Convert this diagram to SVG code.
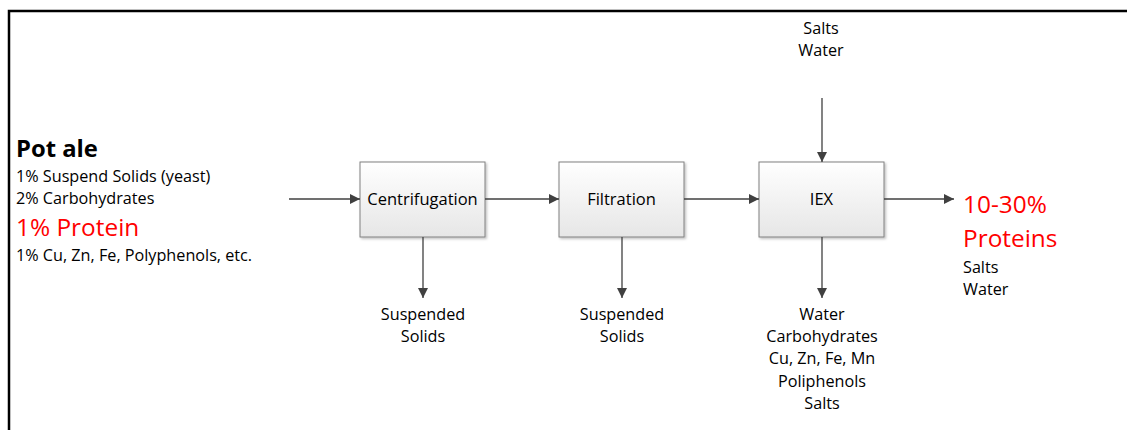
<svg xmlns="http://www.w3.org/2000/svg" width="1127" height="430" viewBox="0 0 1127 430">
  <defs>
    <linearGradient id="boxFill" x1="0" y1="0" x2="0" y2="1">
      <stop offset="0" stop-color="#ffffff"/>
      <stop offset="1" stop-color="#e6e6e6"/>
    </linearGradient>
    <filter id="shadow" x="-10%" y="-10%" width="130%" height="130%">
      <feDropShadow dx="1.5" dy="1.5" stdDeviation="1" flood-color="#000" flood-opacity="0.25"/>
    </filter>
    <marker id="arrow" viewBox="0 0 10 10" refX="10" refY="5" markerWidth="10" markerHeight="10" markerUnits="userSpaceOnUse" orient="auto">
      <path d="M0,0 L10,5 L0,10 z" fill="#404040"/>
    </marker>
  </defs>
  <style>
    text { font-family: "Open Sans", "Liberation Sans", Arial, sans-serif; fill: #000; }
    .lbl { font-size: 16.2px; }
    .unit { font-size: 16.5px; }
    .mid { text-anchor: middle; }
    .red { fill: #ff0000; }
    .box { fill: url(#boxFill); stroke: #808080; stroke-width: 1; filter: url(#shadow); }
    .conn { stroke: #404040; stroke-width: 1.3; fill: none; marker-end: url(#arrow); }
  </style>

  <rect width="1127" height="430" fill="#ffffff"/>

  <!-- frame -->
  <path d="M9,430 V11 H1127" fill="none" stroke="#000" stroke-width="2.5"/>

  <!-- feed description -->
  <g id="feed">
    <text x="16" y="157" font-size="23.8" font-weight="bold">Pot ale</text>
    <text x="16" y="182" class="lbl">1% Suspend Solids (yeast)</text>
    <text x="16" y="204" class="lbl">2% Carbohydrates</text>
    <text x="16" y="236" font-size="24.4" class="red">1% Protein</text>
    <text x="16" y="261" class="lbl">1% Cu, Zn, Fe, Polyphenols, etc.</text>
  </g>

  <!-- process units -->
  <g id="centrifugation">
    <rect x="360" y="162" width="125" height="75" class="box"/>
    <text x="422.5" y="205" class="unit mid">Centrifugation</text>
  </g>
  <g id="filtration">
    <rect x="559" y="162" width="125" height="75" class="box"/>
    <text x="621.5" y="205" class="unit mid">Filtration</text>
  </g>
  <g id="iex">
    <rect x="759" y="162" width="125" height="75" class="box"/>
    <text x="821.5" y="205" class="unit mid">IEX</text>
  </g>

  <!-- streams -->
  <g id="connectors">
    <line x1="289" y1="199" x2="360" y2="199" class="conn"/>
    <line x1="485" y1="199" x2="559" y2="199" class="conn"/>
    <line x1="684" y1="199" x2="759" y2="199" class="conn"/>
    <line x1="884" y1="199" x2="954" y2="199" class="conn"/>
    <line x1="423" y1="237" x2="423" y2="298" class="conn"/>
    <line x1="622" y1="237" x2="622" y2="298" class="conn"/>
    <line x1="822" y1="237" x2="822" y2="298" class="conn"/>
    <line x1="822" y1="98" x2="822" y2="162" class="conn"/>
  </g>

  <g id="iex-feed">
    <text x="821" y="34" class="lbl mid">Salts</text>
    <text x="821" y="56" class="lbl mid">Water</text>
  </g>

  <g id="centrifugation-out">
    <text x="423" y="320" class="lbl mid">Suspended</text>
    <text x="423" y="342" class="lbl mid">Solids</text>
  </g>

  <g id="filtration-out">
    <text x="622" y="320" class="lbl mid">Suspended</text>
    <text x="622" y="342" class="lbl mid">Solids</text>
  </g>

  <g id="iex-waste">
    <text x="822" y="320" class="lbl mid">Water</text>
    <text x="822" y="342" class="lbl mid">Carbohydrates</text>
    <text x="822" y="364" class="lbl mid">Cu, Zn, Fe, Mn</text>
    <text x="822" y="387" class="lbl mid">Poliphenols</text>
    <text x="822" y="409" class="lbl mid">Salts</text>
  </g>

  <g id="product">
    <text x="963" y="213" font-size="24.4" class="red">10-30%</text>
    <text x="963" y="247" font-size="24.4" class="red">Proteins</text>
    <text x="963" y="273" class="lbl">Salts</text>
    <text x="963" y="295" class="lbl">Water</text>
  </g>
</svg>
